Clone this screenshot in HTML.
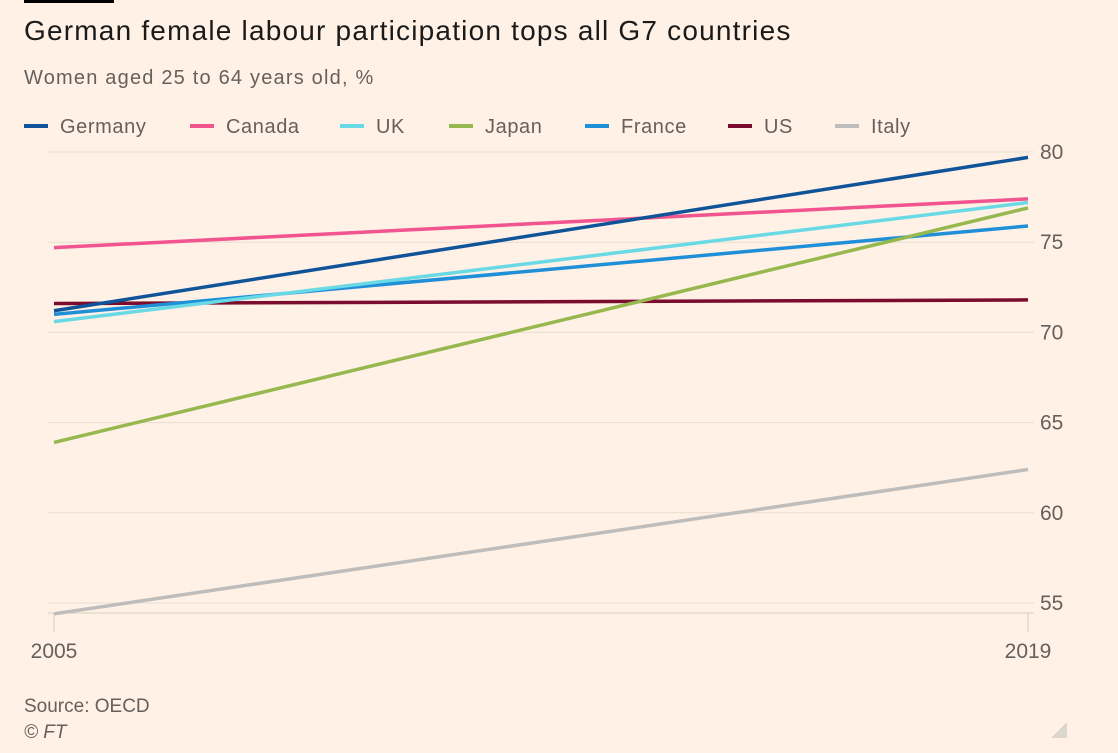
<!DOCTYPE html>
<html><head><meta charset="utf-8"><style>
body{margin:0;background:#fff1e5;font-family:"Liberation Sans",sans-serif;}
#wrap{position:relative;width:1118px;height:753px;overflow:hidden;}
.t{position:absolute;white-space:nowrap;}
</style></head><body>
<div id="wrap">
<div class="t" style="left:24px;top:0;width:90px;height:3px;background:#000"></div>
<div class="t" style="left:24px;top:15px;font-size:28px;letter-spacing:1.2px;color:#1a1a1a">German female labour participation tops all G7 countries</div>
<div class="t" style="left:24px;top:67px;font-size:20px;letter-spacing:1.2px;color:#66605c">Women aged 25 to 64 years old, %</div>
<svg id="chart" width="1118" height="753" style="position:absolute;left:0;top:0"></svg>
<div class="t" style="left:24px;top:696px;font-size:19px;color:#66605c">Source: OECD</div>
<div class="t" style="left:24px;top:722px;font-size:19px;color:#66605c;font-style:italic">© FT</div>
<svg class="t" style="left:1051px;top:722px" width="16" height="16"><polygon points="16,0 16,16 0,16" fill="#ddd6cf"/></svg>
</div>
<script>
const series = ["Germany","Canada","UK","Japan","France","US","Italy"];
const colors = ["#0f5499","#f2548f","#6ad9e6","#96b84f","#1f8fd8","#7a0c2e","#bfbdbb"];
const years = [2005, 2019];
const germany = [71.2, 79.7];
const canada = [74.7, 77.4];
const uk = [70.6, 77.2];
const japan = [63.9, 76.9];
const france = [71.0, 75.9];
const us = [71.6, 71.8];
const italy = [54.4, 62.4];
const yTicks = [55,60,65,70,75,80];
const values = [germany,canada,uk,japan,france,us,italy];
const NS="http://www.w3.org/2000/svg";
const svg=document.getElementById('chart');
const x=v=>54+(v-2005)/(2019-2005)*(1028-54);
const y=v=>603-(v-55)*(603-152)/25;
function mk(tag,attrs){const e=document.createElementNS(NS,tag);for(const k in attrs)e.setAttribute(k,attrs[k]);svg.appendChild(e);return e;}
yTicks.forEach(t=>{
  const g=mk('line',{x1:48,x2:1034,y1:y(t),y2:y(t),stroke:'#e9ddd2','stroke-width':1});
  
  
  const l=mk('text',{x:1040,y:y(t)+7,'font-size':21,fill:'#66605c','font-family':'Liberation Sans'});
  l.textContent=t;
  
  
});
const base=mk('line',{x1:48,x2:1034,y1:613,y2:613,stroke:'#d9cec4','stroke-width':1});


years.forEach((yr,i)=>{
  const tk=mk('line',{x1:x(yr),x2:x(yr),y1:613,y2:632,stroke:'#d9cec4','stroke-width':1});
  
  
  const l=mk('text',{x:x(yr),y:658,'font-size':21,fill:'#66605c','text-anchor':'middle','font-family':'Liberation Sans'});
  l.textContent=yr;
  
  
});
for(let i=series.length-1;i>=0;i--){
  const pts=years.map((yr,j)=>x(yr)+','+y(values[i][j])).join(' ');
  const p=mk('polyline',{points:pts,fill:'none',stroke:colors[i],'stroke-width':3.5});
  
  
}
const lx=[24,190,340,449,585,728,835];
series.forEach((s,i)=>{
  const sw=mk('line',{x1:lx[i],x2:lx[i]+24,y1:126,y2:126,stroke:colors[i],'stroke-width':4});
  
  
  const t=mk('text',{x:lx[i]+36,y:133,'font-size':20,'letter-spacing':0.6,fill:'#66605c','font-family':'Liberation Sans'});
  t.textContent=s;
  
  
});
</script>
</body></html>
